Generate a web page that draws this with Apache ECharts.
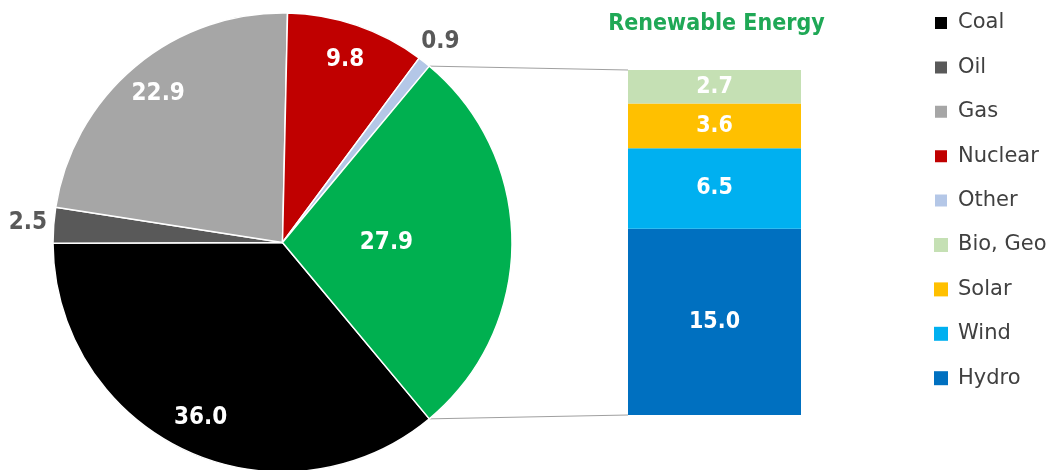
<!DOCTYPE html>
<html>
<head>
<meta charset="utf-8">
<script src="https://cdn.jsdelivr.net/npm/echarts@6/dist/echarts.min.js"></script>
<style>
  html, body { margin: 0; padding: 0; background: #ffffff; }
  #chart { width: 1055px; height: 470px; }
</style>
</head>
<body>
<div id="chart"></div>
<script>
// Electricity generation mix (%), with the renewable share broken out
const pieNames  = ['Coal', 'Oil', 'Gas', 'Nuclear', 'Other', 'Renewable'];
const pieValues = [36.0, 2.5, 22.9, 9.8, 0.9, 27.9];
const pieColors = ['#000000', '#595959', '#a6a6a6', '#c00000', '#b4c7e7', '#00b050'];

// Renewable breakdown, stacked bottom to top
const barNames  = ['Hydro', 'Wind', 'Solar', 'Bio, Geo'];
const barValues = [15.0, 6.5, 3.6, 2.7];
const barColors = ['#0070c0', '#00b0f0', '#ffc000', '#c5e0b4'];

const legendNames = ['Coal', 'Oil', 'Gas', 'Nuclear', 'Other', 'Bio, Geo', 'Solar', 'Wind', 'Hydro'];
const barTitle = 'Renewable Energy';

// Which pie labels sit near the rim, near the centre, or outside the pie
const rimLabels = ['Coal', 'Gas', 'Nuclear'];
const coreLabels = ['Renewable'];
const outerLabels = ['Oil', 'Other'];

const PIE_CENTER = [282.5, 242.5];
const PIE_R = 229.5;
const NUM_FONT = 'DejaVu Sans Condensed';

const pieTotal = pieValues.reduce((a, b) => a + b, 0);
const barTotal = barValues.reduce((a, b) => a + b, 0);
// Renewable wedge is centred on the 3 o'clock direction, facing the bar
const renewHalf = pieValues[pieNames.indexOf('Renewable')] / pieTotal * 180;
const startAngle = 360 - renewHalf;

const fmt1 = p => Number(p.value).toFixed(1);

function labelPie(radius, names, color) {
  return {
    type: 'pie',
    silent: true,
    center: PIE_CENTER,
    radius: radius,
    startAngle: startAngle,
    clockwise: true,
    avoidLabelOverlap: false,
    emphasis: { disabled: true },
    itemStyle: { color: 'rgba(0,0,0,0)', borderWidth: 0 },
    labelLine: { show: false },
    label: {
      show: true, position: 'inside', formatter: fmt1,
      color: color, fontFamily: NUM_FONT, fontWeight: 'bold', fontSize: 24
    },
    data: pieNames.map((n, i) => ({
      name: n, value: pieValues[i],
      label: { show: names.indexOf(n) >= 0 }
    }))
  };
}

const chart = echarts.init(document.getElementById('chart'), null, { renderer: 'canvas' });

const series = [
  {
    type: 'pie',
    center: PIE_CENTER,
    radius: PIE_R,
    startAngle: startAngle,
    clockwise: true,
    emphasis: { scale: false },
    label: { show: false },
    labelLine: { show: false },
    itemStyle: { borderColor: '#ffffff', borderWidth: 1.5 },
    data: pieNames.map((n, i) => ({ name: n, value: pieValues[i], itemStyle: { color: pieColors[i] } }))
  },
  labelPie([PIE_R * 0.66, PIE_R], rimLabels, '#ffffff'),
  labelPie([0, PIE_R * 0.88], coreLabels, '#ffffff'),
  labelPie([PIE_R, PIE_R * 1.2], outerLabels, '#595959')
];

barNames.forEach((n, i) => {
  series.push({
    type: 'bar',
    name: n,
    stack: 'renew',
    barCategoryGap: '0%',
    emphasis: { disabled: true },
    itemStyle: { color: barColors[i] },
    label: {
      show: true, position: 'inside', formatter: fmt1,
      color: '#ffffff', fontFamily: NUM_FONT, fontWeight: 'bold', fontSize: 23
    },
    data: [barValues[i]]
  });
});

chart.setOption({
  animation: false,
  backgroundColor: '#ffffff',
  grid: { left: 628, right: 254, top: 70, bottom: 55 },
  xAxis: { type: 'category', data: [''], show: false },
  yAxis: { type: 'value', min: 0, max: barTotal, show: false },
  legend: {
    orient: 'vertical',
    left: 933,
    top: 12,
    padding: 0,
    itemWidth: 14,
    itemHeight: 14,
    itemGap: 22.4,
    icon: 'rect',
    selectedMode: false,
    data: legendNames,
    textStyle: {
      fontFamily: 'DejaVu Sans', fontSize: 21, lineHeight: 22,
      color: '#404040', padding: [0, 0, 0, 5]
    }
  },
  series: series
});

// Connector lines from the renewable wedge edges to the bar, plus the bar title
const rect = chart.getModel().getComponent('grid', 0).coordinateSystem.getRect();
const topPt = chart.convertToPixel({ xAxisIndex: 0, yAxisIndex: 0 }, [0, barTotal]);
const botPt = chart.convertToPixel({ xAxisIndex: 0, yAxisIndex: 0 }, [0, 0]);
const a = renewHalf * Math.PI / 180;
const edgeX = PIE_CENTER[0] + PIE_R * Math.cos(a);
const edgeTopY = PIE_CENTER[1] - PIE_R * Math.sin(a);
const edgeBotY = PIE_CENTER[1] + PIE_R * Math.sin(a);

chart.setOption({
  graphic: [
    { type: 'line', z: -1, shape: { x1: edgeX, y1: edgeTopY, x2: rect.x, y2: topPt[1] },
      style: { stroke: '#a0a0a0', lineWidth: 1 } },
    { type: 'line', z: -1, shape: { x1: edgeX, y1: edgeBotY, x2: rect.x, y2: botPt[1] },
      style: { stroke: '#a0a0a0', lineWidth: 1 } },
    { type: 'text', x: topPt[0] + 2, y: 24,
      style: { text: barTitle, fill: '#1fa856', font: 'bold 23px "DejaVu Sans Condensed"',
               textAlign: 'center', textVerticalAlign: 'middle' } }
  ]
});
</script>
</body>
</html>
